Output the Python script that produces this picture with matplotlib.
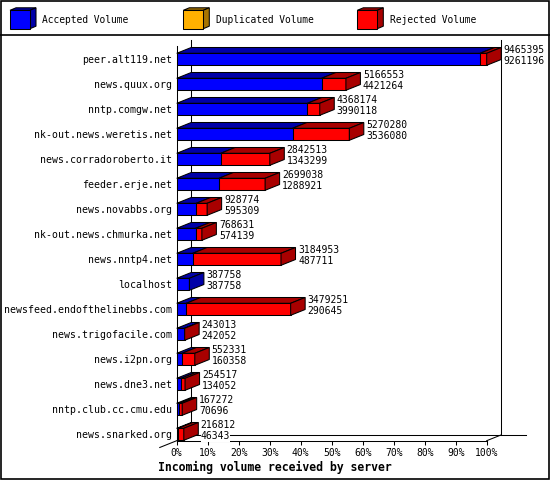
import numpy as np
import matplotlib.pyplot as plt
from matplotlib.patches import Polygon, Rectangle

plt.rcParams['font.family'] = ['DejaVu Sans Mono', 'DejaVu Sans']

servers = ['peer.alt119.net', 'news.quux.org', 'nntp.comgw.net',
           'nk-out.news.weretis.net', 'news.corradoroberto.it', 'feeder.erje.net',
           'news.novabbs.org', 'nk-out.news.chmurka.net', 'news.nntp4.net',
           'localhost', 'newsfeed.endofthelinebbs.com', 'news.trigofacile.com',
           'news.i2pn.org', 'news.dne3.net', 'nntp.club.cc.cmu.edu', 'news.snarked.org']
accepted = [9261196, 4421264, 3990118, 3536080, 1343299, 1288921, 595309, 574139,
            487711, 387758, 290645, 242052, 160358, 134052, 70696, 46343]
duplicated = [0, 0, 0, 0, 0, 0, 0, 0, 0, 0, 0, 0, 0, 0, 0, 0]
rejected = [204199, 745289, 378056, 1734200, 1499214, 1410117, 333465, 194492,
            2697242, 0, 3188606, 961, 391973, 120465, 96576, 170469]
series_names = ['Accepted Volume', 'Duplicated Volume', 'Rejected Volume']
xticks = [0, 10, 20, 30, 40, 50, 60, 70, 80, 90, 100]

front = ['#0000ff', '#ffb000', '#ff0000']
dark = ['#0000a8', '#a87400', '#a80000']

W, H = 550, 480
fig = plt.figure(figsize=(W / 100, H / 100), dpi=100)
LW = 0.75

# frame, legend and title in pixel space
bg = fig.add_axes([0, 0, 1, 1])
bg.set_xlim(0, W)
bg.set_ylim(H, 0)
bg.axis('off')
bg.add_patch(Rectangle((0.6, 0.6), W - 1.6, H - 1.8, fill=False, lw=1.2, ec='black'))
bg.plot([0, W], [35.3, 35.3], color='black', lw=1.2)

def cube(x, y, w, h, dx, dy, fc, dc):
    bg.add_patch(Polygon([(x, y), (x + dx, y - dy), (x + w + dx, y - dy), (x + w, y)],
                         fc=dc, ec='black', lw=LW))
    bg.add_patch(Polygon([(x + w, y), (x + w + dx, y - dy), (x + w + dx, y + h - dy), (x + w, y + h)],
                         fc=dc, ec='black', lw=LW))
    bg.add_patch(Rectangle((x, y), w, h, fc=fc, ec='black', lw=LW))

for k, (lx, tx) in enumerate([(10, 42), (183.3, 216), (357.3, 390)]):
    cube(lx, 10.3, 20, 18.4, 6, 2.5, front[k], dark[k])
    bg.text(tx, 20, series_names[k], ha='left', va='center', fontsize=6.9)

bg.text(275, 467, 'Incoming volume received by server', ha='center', va='center',
        fontsize=8.3, fontweight='bold')

# plot area: x in percent of the largest total, y in rows
PX_X = 3.1          # pixels per percent
PX_Y = 25.0         # pixels per row
top_px, bot_px, row0_px = 46.0, 440.7, 59.3
ax = fig.add_axes([176.7 / W, (H - bot_px) / H, 100 * PX_X / W, (bot_px - top_px) / H])
ax.patch.set_visible(False)
y_top = (top_px - row0_px) / PX_Y
y_bot = (bot_px - row0_px) / PX_Y
ax.set_xlim(0, 100)
ax.set_ylim(y_bot, y_top)
for s in ['top', 'right']:
    ax.spines[s].set_visible(False)
for s in ['left', 'bottom']:
    ax.spines[s].set_linewidth(LW)
ax.set_xticks(xticks)
ax.set_xticklabels([f'{v}%' for v in xticks])
ax.tick_params(axis='x', length=3.2, width=LW, pad=2, labelsize=7)
ax.set_yticks(range(len(servers)))
ax.set_yticklabels(servers)
ax.tick_params(axis='y', length=0, pad=3.4, labelsize=7.1)

DX = 14.5 / PX_X
DY = -5.8 / PX_Y
BH = 12.0 / PX_Y

# back wall and floor
ax.plot([DX, DX], [(40 - row0_px) / PX_Y, y_bot + DY], color='black', lw=LW, clip_on=False, zorder=1)
ax.plot([100 + DX, 100 + DX], [(40 - row0_px) / PX_Y, y_bot + DY], color='black', lw=LW, clip_on=False, zorder=1)
ax.plot([DX, 100 + DX + 25 / PX_X], [y_bot + DY, y_bot + DY], color='black', lw=LW, clip_on=False, zorder=1)
ax.plot([100, 100 + DX], [y_bot, y_bot + DY], color='black', lw=LW, clip_on=False, zorder=1)
ax.plot([DX, -1.17 * DX], [y_bot + DY, y_bot - 1.17 * DY], color='black', lw=LW, clip_on=False, zorder=1)

totals = np.array(accepted) + np.array(duplicated) + np.array(rejected)
scale = 100.0 / totals.max()
stack = np.array([accepted, duplicated, rejected], dtype=float) * scale

for i in range(len(servers)):
    yt, yb = i - BH / 2, i + BH / 2
    x0 = 0.0
    last = 0
    for k in range(3):
        w = stack[k, i]
        if w <= 0:
            continue
        x1 = x0 + w
        ax.add_patch(Polygon([(x0, yt), (x1, yt), (x1 + DX, yt + DY), (x0 + DX, yt + DY)],
                             fc=dark[k], ec='black', lw=LW, clip_on=False, zorder=3))
        ax.add_patch(Polygon([(x0, yt), (x1, yt), (x1, yb), (x0, yb)],
                             fc=front[k], ec='black', lw=LW, clip_on=False, zorder=3))
        x0 = x1
        last = k
    ax.add_patch(Polygon([(x0, yt), (x0 + DX, yt + DY), (x0 + DX, yb + DY), (x0, yb)],
                         fc=dark[last], ec='black', lw=LW, clip_on=False, zorder=3))
    tx = x0 + DX + 2.5 / PX_X
    ax.text(tx, i - 6.3 / PX_Y, str(totals[i]), ha='left', va='baseline', fontsize=7,
            clip_on=False, zorder=4, bbox=dict(fc='white', ec='none', pad=0.2))
    ax.text(tx, i + 5.0 / PX_Y, str(accepted[i]), ha='left', va='baseline', fontsize=7,
            clip_on=False, zorder=4, bbox=dict(fc='white', ec='none', pad=0.2))

fig.savefig('out.png', dpi=100)
